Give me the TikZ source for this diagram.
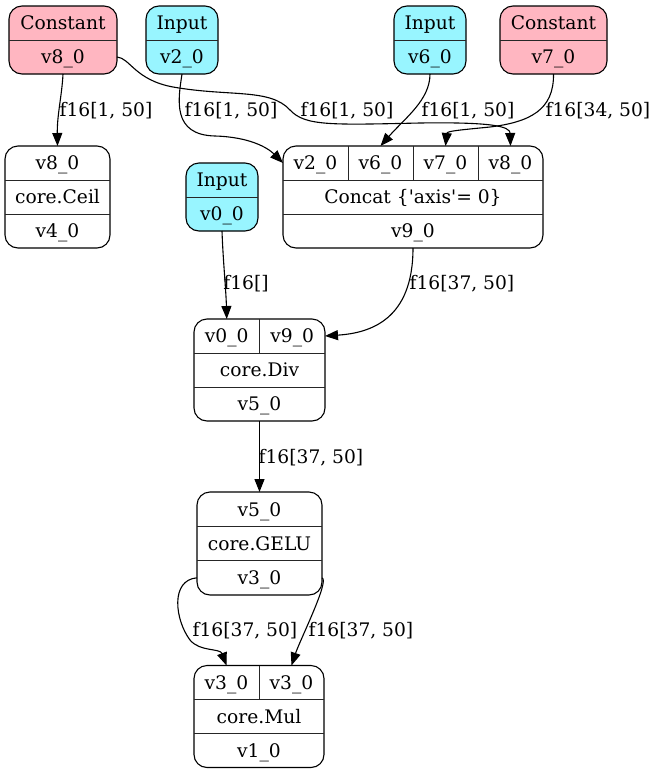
\documentclass[tikz,border=0pt]{standalone}
\usepackage{fontspec}
\setmainfont{DejaVu Serif}
\usetikzlibrary{arrows.meta}
\definecolor{pinkc}{HTML}{FFB6C1}
\definecolor{cyanc}{HTML}{98F5FF}
\begin{document}
\begin{tikzpicture}[x=1pt,y=-1pt,
  rec/.style={draw=black, line width=1.1pt, rounded corners=13pt, inner sep=0pt, outer sep=0pt},
  fld/.style={inner sep=0pt, outer sep=0pt, text height=13.6pt, text depth=0pt, font=\fontsize{18.67}{22}\selectfont},
  lbl/.style={inner sep=0pt, text height=13.6pt, text depth=0pt, font=\fontsize{18.67}{22}\selectfont},
  conn/.style={draw=black, line width=1.1pt, -{Triangle[length=13pt,width=10pt]}},
  dv/.style={draw=black!85, line width=1pt}]
\useasboundingbox (0,0) rectangle (656,774);
\fill[white] (0,0) rectangle (656,774);
% ---------- boxes ----------
\node[rec, fill=pinkc, minimum width=108pt, minimum height=68pt] (k8) at (63,40) {};
\node[rec, fill=cyanc, minimum width=72pt, minimum height=68pt] (in2) at (182,40) {};
\node[rec, fill=cyanc, minimum width=72pt, minimum height=68pt] (in6) at (430,40) {};
\node[rec, fill=pinkc, minimum width=107pt, minimum height=68pt] (k7) at (553.5,40) {};
\node[rec, fill=white, minimum width=105pt, minimum height=102pt] (ceil) at (57.5,197) {};
\node[rec, fill=cyanc, minimum width=72pt, minimum height=68pt] (in0) at (222,197) {};
\node[rec, fill=white, minimum width=260pt, minimum height=102pt] (cat) at (413,197) {};
\node[rec, fill=white, minimum width=131pt, minimum height=102pt] (div) at (259.5,370) {};
\node[rec, fill=white, minimum width=125pt, minimum height=103pt] (gelu) at (259.5,543.5) {};
\node[rec, fill=white, minimum width=130pt, minimum height=102pt] (mul) at (259,716.5) {};
% ---------- fields ----------
\node[fld, minimum width=108pt, minimum height=34pt] (k8h) at (63,23) {Constant};
\node[fld, minimum width=108pt, minimum height=34pt] (k8o) at (63,57) {v8\_0};
\node[fld, minimum width=72pt, minimum height=34pt] (in2h) at (182,23) {Input};
\node[fld, minimum width=72pt, minimum height=34pt] (in2o) at (182,57) {v2\_0};
\node[fld, minimum width=72pt, minimum height=34pt] (in6h) at (430,23) {Input};
\node[fld, minimum width=72pt, minimum height=34pt] (in6o) at (430,57) {v6\_0};
\node[fld, minimum width=107pt, minimum height=34pt] (k7h) at (553.5,23) {Constant};
\node[fld, minimum width=107pt, minimum height=34pt] (k7o) at (553.5,57) {v7\_0};
\node[fld, minimum width=105pt, minimum height=34pt] (ceili) at (57.5,163) {v8\_0};
\node[fld, minimum width=105pt, minimum height=34pt] (ceilop) at (57.5,197) {core.Ceil};
\node[fld, minimum width=105pt, minimum height=34pt] (ceilo) at (57.5,231) {v4\_0};
\node[fld, minimum width=72pt, minimum height=34pt] (in0h) at (222,180) {Input};
\node[fld, minimum width=72pt, minimum height=34pt] (in0o) at (222,214) {v0\_0};
\node[fld, minimum width=65pt, minimum height=34pt] (catv2) at (315.5,163) {v2\_0};
\node[fld, minimum width=65pt, minimum height=34pt] (catv6) at (380.5,163) {v6\_0};
\node[fld, minimum width=65pt, minimum height=34pt] (catv7) at (445.5,163) {v7\_0};
\node[fld, minimum width=65pt, minimum height=34pt] (catv8) at (510.5,163) {v8\_0};
\node[fld, minimum width=260pt, minimum height=34pt] (catop) at (413,197) {Concat \{\textquotesingle axis\textquotesingle= 0\}};
\node[fld, minimum width=260pt, minimum height=34pt] (catout) at (413,231) {v9\_0};
\node[fld, minimum width=65.5pt, minimum height=34pt] (divv0) at (226.75,336) {v0\_0};
\node[fld, minimum width=65.5pt, minimum height=34pt] (divv9) at (292.25,336) {v9\_0};
\node[fld, minimum width=131pt, minimum height=34pt] (divop) at (259.5,370) {core.Div};
\node[fld, minimum width=131pt, minimum height=34pt] (divout) at (259.5,404) {v5\_0};
\node[fld, minimum width=125pt, minimum height=34.33pt] (geluin) at (259.5,509.2) {v5\_0};
\node[fld, minimum width=125pt, minimum height=34.33pt] (geluop) at (259.5,543.5) {core.GELU};
\node[fld, minimum width=125pt, minimum height=34.33pt] (geluout) at (259.5,577.8) {v3\_0};
\node[fld, minimum width=65pt, minimum height=34pt] (mulv3a) at (226.5,682.5) {v3\_0};
\node[fld, minimum width=65pt, minimum height=34pt] (mulv3b) at (291.5,682.5) {v3\_0};
\node[fld, minimum width=130pt, minimum height=34pt] (mulop) at (259,716.5) {core.Mul};
\node[fld, minimum width=130pt, minimum height=34pt] (mulout) at (259,750.5) {v1\_0};
% ---------- dividers ----------
\draw[dv] (k8h.south west) -- (k8h.south east);
\draw[dv] (in2h.south west) -- (in2h.south east);
\draw[dv] (in6h.south west) -- (in6h.south east);
\draw[dv] (k7h.south west) -- (k7h.south east);
\draw[dv] (ceili.south west) -- (ceili.south east);
\draw[dv] (ceilop.south west) -- (ceilop.south east);
\draw[dv] (in0h.south west) -- (in0h.south east);
\draw[dv] (catv2.south west) -- (catv8.south east);
\draw[dv] (catop.south west) -- (catop.south east);
\draw[dv] (catv2.north east) -- (catv2.south east);
\draw[dv] (catv6.north east) -- (catv6.south east);
\draw[dv] (catv7.north east) -- (catv7.south east);
\draw[dv] (divv0.south west) -- (divv9.south east);
\draw[dv] (divop.south west) -- (divop.south east);
\draw[dv] (divv0.north east) -- (divv0.south east);
\draw[dv] (geluin.south west) -- (geluin.south east);
\draw[dv] (geluop.south west) -- (geluop.south east);
\draw[dv] (mulv3a.south west) -- (mulv3b.south east);
\draw[dv] (mulop.south west) -- (mulop.south east);
\draw[dv] (mulv3a.north east) -- (mulv3a.south east);
% ---------- connectors ----------
\draw[conn] (k8o.south) .. controls (62,95) and (57,115) .. (ceili.north);
\draw[conn] (in2o.south) .. controls (178,100) and (172,135) .. (215,136) .. controls (250,137) and (268,148) .. (catv2.west);
\draw[conn] (k8o.east) .. controls (130,58) and (135,80) .. (173,87) .. controls (230,97) and (270,88) .. (290,110) .. controls (305,126) and (330,125) .. (420,123) .. controls (490,122) and (510,126) .. (catv8.north);
\draw[conn] (in6o.south) .. controls (430,100) and (405,118) .. (catv6.north);
\draw[conn] (k7o.south) .. controls (554,110) and (530,122) .. (490,127) .. controls (460,130) and (447,131) .. (catv7.north);
\draw[conn] (in0o.south) .. controls (223,260) and (226,290) .. (divv0.north);
\draw[conn] (catout.south) .. controls (413,320) and (370,333) .. (divv9.east);
\draw[conn] (divout.south) -- (geluin.north);
\draw[conn] (geluout.west) .. controls (170,580) and (175,620) .. (190,640) .. controls (200,652) and (220,648) .. (mulv3a.north);
\draw[conn] (geluout.east) .. controls (330,580) and (300,640) .. (mulv3b.north);
% ---------- labels ----------
\node[lbl] (l1) at (106,110) {f16[1, 50]};
\node[lbl] (l2) at (231,110) {f16[1, 50]};
\node[lbl] (l3) at (347,110) {f16[1, 50]};
\node[lbl] (l4) at (468,110) {f16[1, 50]};
\node[lbl] (l5) at (598,110) {f16[34, 50]};
\node[lbl] (l6) at (246,283) {f16[]};
\node[lbl] (l7) at (462,283) {f16[37, 50]};
\node[lbl] (l8) at (311,457) {f16[37, 50]};
\node[lbl] (l9) at (245,630) {f16[37, 50]};
\node[lbl] (l10) at (361,630) {f16[37, 50]};
\end{tikzpicture}
\end{document}
